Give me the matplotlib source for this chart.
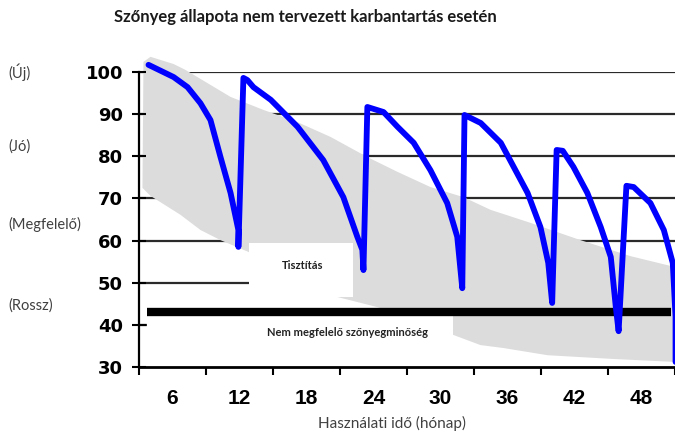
import numpy as np
import matplotlib
matplotlib.use("Agg")
import matplotlib.pyplot as plt
from matplotlib.patches import Polygon, Rectangle

plt.rcParams['font.family'] = ['Lato', 'DejaVu Sans']

# carpet condition (blue sawtooth), month / score
months = [3.85, 6.1, 7.35, 8.5, 9.4, 10.3, 11.2, 11.9, 11.9,
          12.35, 12.7, 13.25, 14.8, 17.2, 19.5, 21.3, 22.55, 23.0, 23.1,
          23.45, 24.9, 26.15, 27.6, 29.1, 30.6, 31.5, 31.95,
          32.15, 33.6, 35.4, 36.55, 37.8, 38.95, 39.65, 40.0,
          40.4, 40.95, 41.9, 43.15, 44.35, 45.25, 45.7, 45.95,
          46.65, 47.3, 48.8, 50.0, 50.8, 51.05, 51.05]
condition = [101.7, 98.8, 96.4, 92.6, 88.6, 79.8, 71.3, 62.5, 58.5,
             98.6, 98.1, 96.4, 93.4, 87.0, 79.1, 70.3, 60.9, 57.8, 53.0,
             91.7, 90.5, 87.0, 83.2, 76.7, 68.9, 60.9, 48.7,
             89.8, 87.9, 83.2, 77.5, 71.3, 63.2, 54.7, 45.2,
             81.5, 81.3, 77.5, 71.3, 63.2, 56.1, 44.2, 38.5,
             73.0, 72.7, 68.9, 62.5, 54.7, 41.9, 31.2]

# gray band, upper edge left->right and lower edge right->left
band_top_m = [3.4, 4.03, 6.09, 7.16, 11.19, 14.15, 17.19, 20.15, 23.46,
              26.15, 29.1, 32.06, 34.48, 38.06, 42.54, 47.02, 51.04]
band_top_v = [102.4, 103.6, 101.9, 100.5, 94.1, 91.0, 88.1, 84.6, 79.8,
              76.3, 72.7, 70.3, 67.3, 64.2, 60.1, 56.3, 53.7]
band_low_m = [51.04, 45.49, 39.58, 35.64, 33.58, 31.16, 28.21, 24.36,
              20.78, 17.46, 12.81, 10.3, 8.51, 6.72, 4.03, 3.31]
band_low_v = [31.2, 31.9, 32.8, 34.5, 35.2, 37.6, 40.7, 44.2,
              46.6, 50.6, 57.3, 60.1, 62.5, 66.1, 70.6, 72.5]

limit_value = 43
limit_months = [3.72, 50.6]

yticks = [30, 40, 50, 60, 70, 80, 90, 100]
xlabels = [6, 12, 18, 24, 30, 36, 42, 48]
xmajor = [3, 9, 15, 21, 27, 33, 39, 45, 51]
levels = ['(Új)', '(Jó)', '(Megfelelő)', '(Rossz)']
level_y = [72, 147, 224, 306]  # pixel rows of the side labels

fig = plt.figure(figsize=(6.75, 4.34), dpi=100)
ax = fig.add_axes([139 / 675, 67 / 434, 536 / 675, 295 / 434])
ax.set_xlim(3, 51)
ax.set_ylim(30, 100)

for v in yticks[1:]:
    ax.axhline(v, color='#2a2a2a', lw=1.6, zorder=0.5)

pts = list(zip(band_top_m, band_top_v)) + list(zip(band_low_m, band_low_v))
ax.add_patch(Polygon(pts, closed=True, fc='#dcdcdc', ec='none', zorder=1, clip_on=False))

# white label boxes cut into the band
ax.add_patch(Rectangle((12.81, 46.6), 22.12 - 12.81, 59.4 - 46.6, fc='white', ec='none', zorder=1.5))
ax.add_patch(Rectangle((3.72, 30), 31.16 - 3.72, 42.6 - 30, fc='white', ec='none', zorder=1.5))

ax.plot(limit_months, [limit_value, limit_value], color='black', lw=6, solid_capstyle='butt', zorder=2)
ax.plot(months, condition, color='#0000ff', lw=4.2, solid_joinstyle='round',
        solid_capstyle='round', zorder=3, clip_on=False)

ax.text(17.64, 54.2, 'Tisztítás', ha='center', va='center', fontsize=8, fontweight='bold',
        color='#222222', zorder=4)
ax.text(21.67, 38.1, 'Nem megfelelő szőnyegminőség', ha='center', va='center', fontsize=8,
        fontweight='bold', color='#222222', zorder=4)

for s in ['top', 'right']:
    ax.spines[s].set_visible(False)
ax.spines['left'].set_linewidth(1.6)
ax.spines['bottom'].set_linewidth(2)

ax.set_yticks(yticks)
ax.set_yticklabels([str(v) for v in yticks], family='DejaVu Sans', fontweight='bold', fontsize=13)
ax.tick_params(axis='y', direction='inout', length=10, width=1.5, pad=6.5)

ax.set_xticks(xmajor)
ax.set_xticks(xlabels, minor=True)
ax.set_xticklabels([str(v) for v in xlabels], minor=True, family='Liberation Sans',
                   fontweight='bold', fontsize=15)
ax.tick_params(axis='x', which='major', direction='out', length=6, width=1.5, labelbottom=False)
ax.tick_params(axis='x', which='minor', length=0, pad=16)

fig.text(305 / 675, 1 - 17 / 434, 'Szőnyeg állapota nem tervezett karbantartás esetén',
         ha='center', va='center', fontsize=12, fontweight='bold', color='#1a1a1a')
fig.text(392 / 675, 1 - 423 / 434, 'Használati idő (hónap)', ha='center', va='center',
         fontsize=11, color='#404040')
for name, py in zip(levels, level_y):
    fig.text(8 / 675, 1 - py / 434, name, ha='left', va='center', fontsize=10.5, color='#404040')

fig.savefig('out.png', dpi=100)
